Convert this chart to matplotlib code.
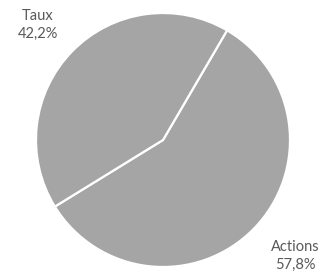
import matplotlib
matplotlib.use("Agg")
import matplotlib.pyplot as plt

categories = ["Actions", "Taux"]
values = [57.8, 42.2]
value_labels = ["57,8%", "42,2%"]

W, H = 333, 277
fig = plt.figure(figsize=(W / 100, H / 100), dpi=100)
ax = fig.add_axes([0, 0, 1, 1])

cx, cy, r = 163, H - 140, 127
ax.pie(values, colors=["#A5A5A5", "#A5A5A5"], startangle=59.7, counterclock=False,
       center=(cx, cy), radius=r, frame=False,
       wedgeprops=dict(edgecolor="white", linewidth=1.6))
ax.set_xlim(0, W)
ax.set_ylim(0, H)
ax.set_aspect("equal")
ax.axis("off")

label_pos = {"Actions": (295, H - 256), "Taux": (38, H - 25)}
for cat, lab in zip(categories, value_labels):
    x, y = label_pos[cat]
    ax.text(x, y, f"{cat}\n{lab}", ha="center", va="center", fontsize=10.5,
            color="#595959", family="Lato", linespacing=1.3)

fig.savefig("out.png", dpi=100)
